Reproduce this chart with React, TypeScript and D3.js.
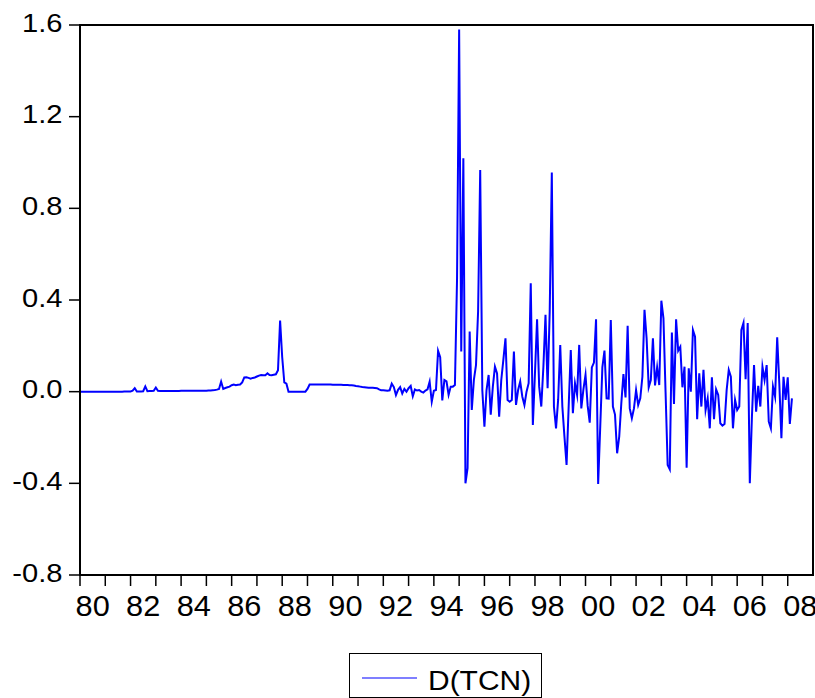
import React from "react";
import * as d3 from "d3";

// Monthly first differences of TCN, 1980M01 .. 2008M03
const START_YEAR = 1980;
const dtcn1980s: number[] = [
  // 1980
  0, 0, 0, 0, 0, 0, 0, 0, 0, 0, 0, 0,
  // 1981
  0, 0, 0, 0, 0, 0, 0, 0, 0, 0.001, 0.001, 0.001,
  // 1982
  0.001, 0.004, 0.015, 0.001, 0.001, 0.001, 0.002, 0.023, 0.002, 0.003, 0.003, 0.004,
  // 1983
  0.018, 0.004, 0.003, 0.003, 0.003, 0.003, 0.003, 0.003, 0.003, 0.003, 0.003, 0.003,
  // 1984
  0.004, 0.004, 0.004, 0.004, 0.004, 0.004, 0.004, 0.004, 0.004, 0.004, 0.004, 0.004,
  // 1985
  0.004, 0.005, 0.005, 0.006, 0.007, 0.009, 0.012, 0.044, 0.012, 0.016, 0.019, 0.022,
  // 1986
  0.028, 0.031, 0.028, 0.03, 0.031, 0.04, 0.062, 0.063, 0.06, 0.057, 0.06, 0.062,
  // 1987
  0.066, 0.07, 0.073, 0.072, 0.072, 0.08, 0.073, 0.072, 0.074, 0.076, 0.094, 0.31,
  // 1988
  0.15, 0.04, 0.035, 0, 0, 0, 0, 0, 0, 0, 0, 0,
  // 1989
  0.012, 0.031, 0.031, 0.031, 0.031, 0.031, 0.031, 0.031, 0.031, 0.031, 0.031, 0.031,
];
const dtcn1990s: number[] = [
  // 1990
  0.03, 0.03, 0.03, 0.03, 0.03, 0.029, 0.029, 0.029, 0.028, 0.028, 0.027, 0.025,
  // 1991
  0.024, 0.022, 0.02, 0.019, 0.018, 0.017, 0.017, 0.017, 0.016, 0.015, 0.01, 0.006,
  // 1992
  0.006, 0.005, 0.004, 0.006, 0.035, 0.02, -0.015, 0.008, 0.02, -0.008, 0.012, 0.0,
  // 1993
  0.015, 0.025, -0.02, 0.01, 0.005, 0.007, 0.0, -0.004, 0.005, 0.01, 0.044, -0.044,
  // 1994
  0.004, 0.007, 0.178, 0.15, -0.038, 0.051, 0.045, -0.014, 0.022, 0.022, 0.029, 0.49,
  // 1995
  1.58, 0.175, 1.018, -0.4, -0.334, 0.262, -0.08, 0.051, 0.116, 0.35, 0.967, 0.007,
  // 1996
  -0.153, 0.007, 0.073, -0.1, 0.022, 0.109, 0.08, -0.109, 0.051, 0.14, 0.233, -0.036,
  // 1997
  -0.044, -0.036, 0.175, -0.058, 0.007, 0.044, -0.022, -0.058, 0.0, 0.037, 0.473, -0.145,
  // 1998
  0.08, 0.316, 0.022, -0.065, 0.109, 0.335, 0.015, 0.35, 0.956, -0.065, -0.16, -0.036,
  // 1999
  0.204, -0.065, -0.196, -0.32, -0.065, 0.182, -0.094, 0.037, -0.014, 0.204, -0.073, 0.01,
];
const dtcn2000s: number[] = [
  // 2000
  0.073, -0.06, -0.135, 0.106, 0.127, 0.316, -0.403, -0.15, 0.106, 0.179, -0.029, -0.03,
  // 2001
  0.313, -0.065, -0.1, -0.269, -0.196, -0.05, 0.077, -0.025, 0.288, -0.073, -0.116, -0.073,
  // 2002
  0.007, -0.058, -0.029, 0.065, 0.357, 0.233, 0.019, 0.051, 0.233, 0.027, 0.106, 0.029,
  // 2003
  0.397, 0.32, 0.0, -0.32, -0.339, 0.258, -0.054, 0.316, 0.179, 0.196, 0.019, 0.109,
  // 2004
  -0.332, 0.102, 0.0, 0.269, 0.24, -0.12, 0.08, -0.065, 0.095, -0.08, -0.029, -0.16,
  // 2005
  0.063, -0.12, 0.01, -0.014, -0.138, -0.148, -0.141, 0.007, 0.095, 0.065, -0.16, -0.036,
  // 2006
  -0.08, -0.065, 0.269, 0.3, 0.054, 0.3, -0.4, -0.11, 0.116, -0.087, 0.025, -0.065,
  // 2007
  0.109, 0.051, 0.116, -0.131, -0.16, 0.022, -0.022, 0.237, 0.037, -0.203, 0.065, -0.036,
  // 2008
  0.063, -0.141, -0.029,
];

const yTickValues = [-0.8, -0.4, 0.0, 0.4, 0.8, 1.2, 1.6];
const yTickLabels = ["-0.8", "-0.4", "0.0", "0.4", "0.8", "1.2", "1.6"];
const xLabelYears = [1980, 1982, 1984, 1986, 1988, 1990, 1992, 1994, 1996, 1998, 2000, 2002, 2004, 2006, 2008];
const xLabels = ["80", "82", "84", "86", "88", "90", "92", "94", "96", "98", "00", "02", "04", "06", "08"];
const seriesName = "D(TCN)";

export default function App() {
  const W = 815;
  const H = 698;
  const left = 80;
  const right = 813;
  const top = 25;
  const bottom = 575;
  const font = "Arial, 'Liberation Sans', Helvetica, sans-serif";

  const values = [...dtcn1980s, ...dtcn1990s, ...dtcn2000s];
  const data = values.map((v, i) => ({ t: START_YEAR + i / 12, v }));

  const x = d3.scaleLinear().domain([1980, 2009]).range([left, right]);
  const y = d3.scaleLinear().domain([-0.8, 1.6]).range([bottom, top]);

  const line = d3
    .line<{ t: number; v: number }>()
    .x((d) => x(d.t))
    .y((d) => y(d.v));

  const yearTicks = d3.range(1980, 2009);

  return (
    <svg
      width={W}
      height={H}
      style={{ position: "absolute", left: 0, top: 0, background: "#fff" }}
    >
      <rect x={0} y={0} width={W} height={H} fill="#fff" />
      <path d={line(data) || ""} fill="none" stroke="#0000ff" strokeWidth={2} strokeLinejoin="miter" strokeMiterlimit={10} />
      <rect x={left} y={top} width={right - left} height={bottom - top} fill="none" stroke="#000" strokeWidth={2} />
      {yTickValues.map((v, i) => (
        <g key={"y" + i}>
          <line x1={left - 11} x2={left} y1={y(v)} y2={y(v)} stroke="#000" strokeWidth={1.5} />
          <text
            transform={`translate(62.5,${y(v) + 6.8}) scale(1.1,1)`}
            textAnchor="end"
            fontFamily={font}
            fontSize={26.5}
            fill="#000"
          >
            {yTickLabels[i]}
          </text>
        </g>
      ))}
      {yearTicks.map((yr) => (
        <line key={"xt" + yr} x1={x(yr)} x2={x(yr)} y1={bottom} y2={bottom + 11} stroke="#000" strokeWidth={1.5} />
      ))}
      {xLabelYears.map((yr, i) => (
        <text
          key={"xl" + yr}
          transform={`translate(${x(yr + 0.5)},616) scale(1.06,1)`}
          textAnchor="middle"
          fontFamily={font}
          fontSize={29}
          fill="#000"
        >
          {xLabels[i]}
        </text>
      ))}
      <rect x={349.5} y={653.5} width={192} height={44} fill="#fff" stroke="#000" strokeWidth={1} />
      <line x1={362} x2={417} y1={678} y2={678} stroke="#0000ff" strokeWidth={1.2} />
      <text transform="translate(428,690) scale(1.07,1)" fontFamily={font} fontSize={28} fill="#000">
        {seriesName}
      </text>
    </svg>
  );
}
